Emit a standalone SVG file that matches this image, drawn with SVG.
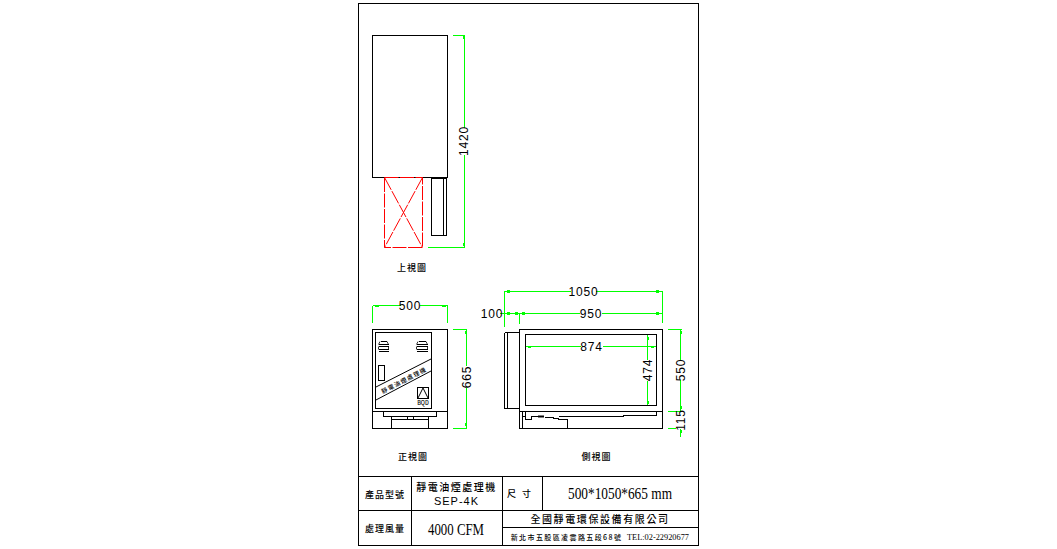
<svg xmlns="http://www.w3.org/2000/svg" width="1057" height="549" viewBox="0 0 1057 549">
<style>
.k{fill:none;stroke:#000;stroke-width:1;shape-rendering:crispEdges}
.r{fill:none;stroke:#f00;stroke-width:1;stroke-dasharray:14 1.5}
.g{fill:none;stroke:#0f0;stroke-width:1;shape-rendering:crispEdges}
.gt{fill:#0f0;stroke:none}
.d{font-family:"Liberation Sans",Arial,sans-serif;font-size:12px;fill:#000;text-anchor:middle;letter-spacing:.8px}
.w{fill:#fff;stroke:none}
.c{font-family:"Noto Sans CJK TC",sans-serif;fill:#000;text-anchor:middle;font-weight:500}
.s{font-family:"Liberation Serif",serif;fill:#000}
</style>
<rect width="1057" height="549" fill="#fff"/>
<g id="frame">
<rect class="k" x="358.5" y="3.5" width="340" height="542"/>
<path class="k" d="M358.5 476.5H698.5M358.5 510.5H698.5M411.5 476.5V545.5M502.5 476.5V545.5M542.5 476.5V510.5M502.5 527.5H698.5"/>
</g>
<g id="top-view">
<rect class="k" x="372.5" y="35.5" width="75" height="142"/>
<rect class="k" x="431.5" y="178.5" width="15" height="57"/>
<path class="k" d="M443.5 178.5V235.5"/>
<rect class="r" x="384.5" y="177.5" width="38" height="70"/>
<path class="r" d="M384.5 177.5L422.5 247.5M422.5 177.5L384.5 247.5"/>
<text class="c" x="412" y="271" font-size="9" letter-spacing="1">上視圖</text>
</g>
<g id="front-view">
<rect class="k" x="372.5" y="329.5" width="75" height="99"/>
<rect class="k" x="375.5" y="332.5" width="56" height="76"/>
<path class="k" d="M372.5 411.5H447.5M383.5 411.5V416.5H436.5V411.5M391.5 416.5V428.5M428.5 416.5V428.5M407.5 416.5V419.5H413.5V416.5M391.5 419.5H428.5"/>
<path class="k" d="M380.500 341.500H386.500M378.500 344.500H388.500M378.500 346.500H388.500M378.500 349.500H388.500M378.500 351.500H388.500M418.500 341.500H425.500M416.500 344.500H427.500M416.500 346.500H427.500M416.500 349.500H427.500M416.500 351.500H427.500"/>
<path d="M380 341.500L378.500 344.500M387 341.500L388.500 344.500M418 341.500L416.500 344.500M426 341.500L427.500 344.500M378.500 346.500V349.500M388.500 346.500V349.500M416.500 346.500V349.500M427.500 346.500V349.500" fill="none" stroke="#000" stroke-width=".8"/>
<rect class="k" x="378.5" y="365.5" width="6" height="15"/>
<path d="M375 387.500L431 359M375 400.500L431 371" fill="none" stroke="#000"/>
<text class="c" font-size="6" letter-spacing="1.200" transform="translate(404 380) rotate(-27.500)" y="2.500">靜電油煙處理機</text>
<rect class="k" x="417.5" y="387.5" width="11" height="11"/>
<path d="M418 398L423 388L428 398" fill="none" stroke="#000"/>
<text class="c" x="423" y="405" font-size="5.5" font-weight="bold" font-family="Liberation Sans">BQD</text>
<text class="c" x="413" y="460" font-size="9" letter-spacing="1">正視圖</text>
</g>
<g id="side-view">
<rect class="k" x="519.5" y="329.5" width="143" height="99"/>
<rect class="k" x="525.5" y="334.5" width="131" height="71"/>
<path class="k" d="M504.5 332.5H519.5M504.5 332.5V408.5H519.5M507.5 332.5V408.5"/>
<path class="k" d="M519.5 411.5H662.5M522.5 411.5V428.5M522.500 416.500H525.500M525.500 411.500V419.500H531.500V416.500H538.500M544.500 417.500H553.500V418.500H558.500V419.500H567.500V428.500M558.500 416.500H623.500V415.500H656.500V411.500"/>
<path d="M538 416.500H544" stroke="#000" stroke-width="2" fill="none"/>
<text class="c" x="596.500" y="460" font-size="9" letter-spacing="1">側視圖</text>
</g>
<g id="connectors">
<path class="g" d="M453 35.5H465M464.5 35.5V247.5M428 247.5H465"/>
<path class="gt" d="M463 36h2v3h-2zM463 243h2v3h-2z"/>
<path class="g" d="M372.5 306V323M372.5 305.5H447.5M447.5 305.5V323"/>
<path class="gt" d="M375 305h4v2h-4zM442 305h4v2h-4z"/>
<path class="g" d="M453 329.5H467M466.5 329.5V428.5M453 428.5H467"/>
<path class="gt" d="M465 331h2v3h-2zM465 423h2v3h-2z"/>
<path class="g" d="M504.5 291V327M504.5 291.5H662.5M662.5 291V323M500 313.5H662.5M519.5 314V324"/>
<path class="gt" d="M507 290h3v3h-3zM656 290h3v3h-3zM507 312h3v3h-3zM515 312h3v3h-3zM522 312h3v3h-3zM656 312h3v3h-3z"/>
<path class="g" d="M526 346.5H656M647.5 335V405"/>
<path class="gt" d="M528 346h3v2h-3zM651 346h3v2h-3zM647 337h2v3h-2zM647 401h2v3h-2z"/>
<path class="g" d="M668 329.5H682M680.5 329.5V437M668 411.5H682M668 428.5H682"/>
<path class="gt" d="M680 331h2v3h-2zM680 406h2v3h-2zM680 414h2v3h-2zM680 430h2v3h-2z"/>
</g>
<g id="dimension-labels">
<rect class="w" x="459" y="128" width="11" height="27"/>
<text class="d" transform="translate(468 141) rotate(-90)">1420</text>
<rect class="w" x="401" y="300" width="19" height="11"/>
<text class="d" x="410" y="310">500</text>
<rect class="w" x="461" y="366" width="11" height="22"/>
<text class="d" transform="translate(470.500 377) rotate(-90)">665</text>
<rect class="w" x="571" y="286" width="25" height="11"/>
<text class="d" x="583.500" y="296">1050</text>
<text class="d" x="492" y="318">100</text>
<rect class="w" x="580" y="308" width="22" height="11"/>
<text class="d" x="591" y="318">950</text>
<rect class="w" x="581" y="341" width="22" height="11"/>
<text class="d" x="591.500" y="351">874</text>
<rect class="w" x="642" y="360" width="11" height="21"/>
<text class="d" transform="translate(652 370) rotate(-90)">474</text>
<rect class="w" x="676" y="360" width="10" height="20"/>
<text class="d" transform="translate(685 370) rotate(-90)">550</text>
<rect class="w" x="676" y="412" width="10" height="17"/>
<text class="d" transform="translate(685 420) rotate(-90)">115</text>
</g>
<g id="title-block">
<text class="c" x="385" y="498" font-size="9" letter-spacing="1">產品型號</text>
<text class="c" x="385" y="532" font-size="9" letter-spacing="1">處理風量</text>
<text class="c" x="456.500" y="491" font-size="10" letter-spacing="1.500">靜電油煙處理機</text>
<text x="456.500" y="505" text-anchor="middle" font-family="Liberation Sans" font-size="11" letter-spacing="1">SEP-4K</text>
<text class="s" x="428" y="535" font-size="17" textLength="56" lengthAdjust="spacingAndGlyphs">4000 CFM</text>
<text class="c" x="522" y="497" font-size="9" letter-spacing="6">尺寸</text>
<text class="s" x="568" y="499" font-size="17" textLength="104" lengthAdjust="spacingAndGlyphs">500*1050*665 mm</text>
<text class="c" x="600" y="523" font-size="10" letter-spacing="1.600">全國靜電環保設備有限公司</text>
<text class="c" x="566.500" y="540" font-size="7" letter-spacing="1.400">新北市五股區凌雲路五段68號</text>
<text class="s" x="627" y="540" font-size="8" textLength="62" lengthAdjust="spacingAndGlyphs">TEL:02-22920677</text>
</g>
</svg>
